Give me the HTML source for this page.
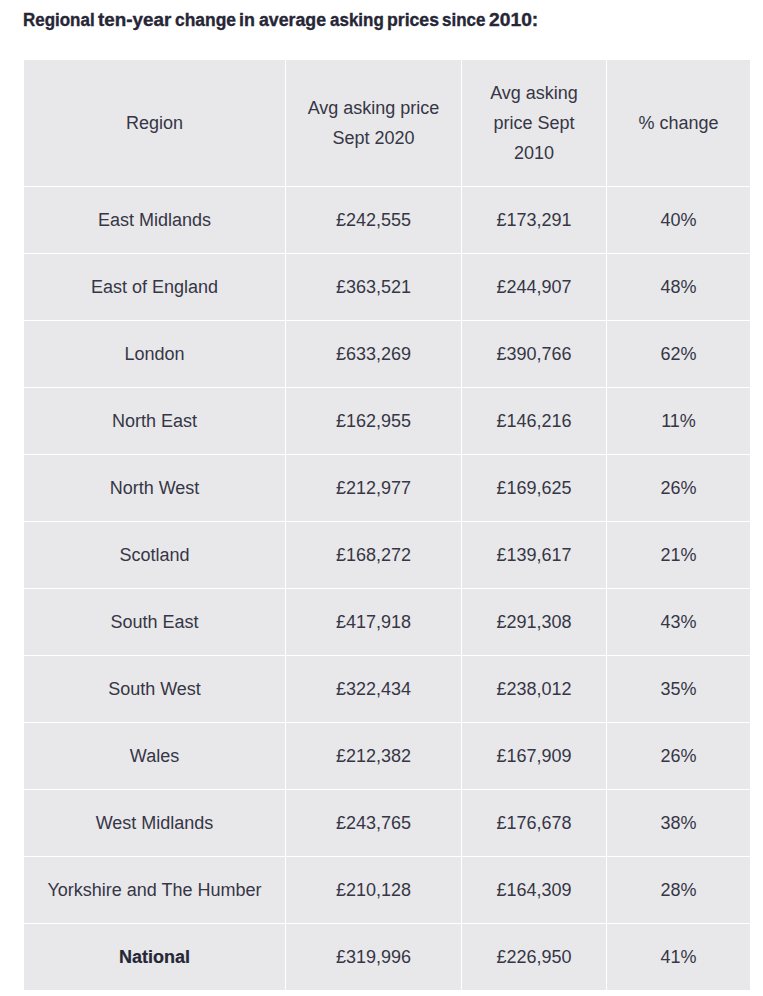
<!DOCTYPE html>
<html>
<head>
<meta charset="utf-8">
<style>
html, body { margin: 0; padding: 0; background: #ffffff; }
body { width: 763px; height: 996px; overflow: hidden; position: relative;
  font-family: "Liberation Sans", sans-serif; color: #262637; }
h2 { position: absolute; left: 0; top: 7px; width: 763px; height: 26px; margin: 0; font-size: 18px; line-height: 26px;
  font-weight: bold; color: #262637; white-space: nowrap; }
h2 span { position: absolute; top: 0; transform-origin: 0 0; -webkit-text-stroke: 0.35px #262637; }
table { position: absolute; left: 24px; top: 60px; border-collapse: separate; border-spacing: 0;
  table-layout: fixed; width: 726px; }
td, th { background: #e8e8ea; border-right: 1px solid #fff; border-bottom: 1px solid #fff;
  padding: 0; text-align: center; vertical-align: middle; font-size: 18px; line-height: 30px;
  font-weight: normal; height: 66px; box-sizing: content-box; color: #363646; }
th { height: 126px; }
td:last-child, th:last-child { border-right: 0; }
.b { font-weight: bold; color: #262637; -webkit-text-stroke: 0.2px #262637; }
</style>
</head>
<body>
<h2><span style="left:23.1px;transform:scaleX(0.942)">Regional</span> <span style="left:98.1px;transform:scaleX(1.046)">ten-year</span> <span style="left:174.7px;transform:scaleX(0.968)">change</span> <span style="left:239.4px;transform:scaleX(0.993)">in</span> <span style="left:258.5px;transform:scaleX(0.985)">average</span> <span style="left:329.8px;transform:scaleX(0.943)">asking</span> <span style="left:387.1px;transform:scaleX(0.980)">prices</span> <span style="left:442.2px;transform:scaleX(0.942)">since</span> <span style="left:489.1px;transform:scaleX(1.070)">2010:</span></h2>
<table>
<colgroup><col style="width:262px"><col style="width:176px"><col style="width:145px"><col style="width:143px"></colgroup>
<tr><th>Region</th><th>Avg asking price<br>Sept 2020</th><th>Avg asking<br>price Sept<br>2010</th><th>% change</th></tr>
<tr><td>East Midlands</td><td>£242,555</td><td>£173,291</td><td>40%</td></tr>
<tr><td>East of England</td><td>£363,521</td><td>£244,907</td><td>48%</td></tr>
<tr><td>London</td><td>£633,269</td><td>£390,766</td><td>62%</td></tr>
<tr><td>North East</td><td>£162,955</td><td>£146,216</td><td>11%</td></tr>
<tr><td>North West</td><td>£212,977</td><td>£169,625</td><td>26%</td></tr>
<tr><td>Scotland</td><td>£168,272</td><td>£139,617</td><td>21%</td></tr>
<tr><td>South East</td><td>£417,918</td><td>£291,308</td><td>43%</td></tr>
<tr><td>South West</td><td>£322,434</td><td>£238,012</td><td>35%</td></tr>
<tr><td>Wales</td><td>£212,382</td><td>£167,909</td><td>26%</td></tr>
<tr><td>West Midlands</td><td>£243,765</td><td>£176,678</td><td>38%</td></tr>
<tr><td>Yorkshire and The Humber</td><td>£210,128</td><td>£164,309</td><td>28%</td></tr>
<tr><td class="b">National</td><td>£319,996</td><td>£226,950</td><td>41%</td></tr>
</table>
</body>
</html>
